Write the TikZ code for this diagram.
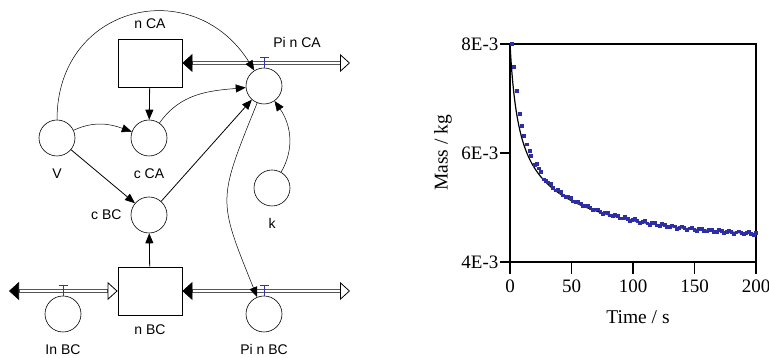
\documentclass[tikz,border=0pt]{standalone}
\usepackage{fontspec}
\setmainfont{Liberation Serif}
\newfontfamily\sdfont{Liberation Sans}
\usetikzlibrary{arrows.meta, positioning, plotmarks}
\definecolor{valveblue}{RGB}{50,50,170}
\definecolor{datablue}{RGB}{45,45,165}
\definecolor{pipegray}{RGB}{85,85,85}
\tikzset{
    stock/.style={rectangle, draw, line width=0.8pt, minimum width=64pt,
                  minimum height=48pt, inner sep=0pt},
    aux/.style={circle, draw, line width=0.6pt, minimum size=36pt, inner sep=0pt},
    lbl/.style={font=\sdfont\fontsize{14}{16}\selectfont, inner sep=1pt},
    info/.style={-{Triangle[length=10pt,width=8pt]}, line width=0.5pt},
    link/.style={info, line width=0.8pt},
    pipe/.style={draw=pipegray, line width=3.6pt,
        {Triangle[length=10pt,width=18pt,line width=0.6pt,color=black]}-{Triangle[open,length=10pt,width=18pt,line width=0.8pt,color=black]},
        postaction={draw=white, line width=1.6pt, arrows=-, shorten <=10.5pt, shorten >=10.5pt}},
    valve/.style={draw=valveblue, line width=0.7pt},
    frame/.style={line width=1.3pt},
    ticklbl/.style={font=\fontsize{19}{22}\selectfont, inner sep=1pt},
    axlbl/.style={font=\fontsize{19.5}{22}\selectfont, inner sep=1pt},
    model/.style={line width=1.2pt},
    data/.style={color=datablue, mark=square*, mark size=1.4pt},
}

\begin{document}
\begin{tikzpicture}[x=1pt, y=1pt]
    \useasboundingbox (0,0) rectangle (769,358);

    % Stocks
    \node[stock, label={[lbl,label distance=9pt]above:n CA}] at (150,295) (nCA) {};
    \node[stock, label={[lbl,label distance=8.5pt]below:n BC}] at (150,67) (nBC) {};

    % Converters
    \node[aux] at (264,272) (PinCA) {};
    \node[lbl] at (297,315) (PinCAlbl) {Pi n CA};
    \node[aux, label={[lbl,label distance=11pt]below:V}] at (57,220) (V) {};
    \node[aux, label={[lbl,label distance=11pt]below:c CA}] at (149,220) (cCA) {};
    \node[aux, label={[lbl,label distance=8pt]left:c BC}] at (149,143) (cBC) {};
    \node[aux, label={[lbl,label distance=11pt]below:k}] at (272,170) (k) {};
    \node[aux, label={[lbl,label distance=11pt]below:In BC}] at (63,44) (InBC) {};
    \node[aux, label={[lbl,label distance=11pt]below:Pi n BC}] at (264,44) (PinBC) {};

    % Flow ends
    \coordinate (sinkCA) at (350,295);
    \coordinate (srcBC) at (9,67);
    \coordinate (sinkBC) at (350,67);

    % Flows
    \draw[pipe] (nCA.east) -- (sinkCA);
    \draw[pipe] (srcBC) -- (nBC.west);
    \draw[pipe] (nBC.east) -- (sinkBC);
    \foreach \v in {InBC,PinBC,PinCA}
        \draw[valve] (\v.north) -- ++(0,10) ++(-4.5,0) -- ++(9,0);

    % Connectors
    \draw[link] (nCA) -- (cCA);
    \draw[link] (nBC) -- (cBC);
    \draw[link] (V) -- (cBC);
    \draw[link] (cBC) -- (PinCA);
    \draw[info] (V) to[out=25, in=160] (cCA);
    \draw[info] (cCA) to[out=55, in=185] (PinCA);
    \draw[info] (k) to[out=60, in=-55] (PinCA);
    \draw[info] (V) to[out=90, in=122, looseness=1.45] (PinCA);
    \draw[info] (PinCA) to[out=-112, in=112, looseness=1.4] (PinBC);

    % Plot frame and ticks
    \draw[frame] (510,96) rectangle (756,314);
    \foreach \y/\t [count=\i] in {96/4E-3, 205/6E-3, 314/8E-3}
        \draw[frame] (510,\y) -- (500,\y) node[ticklbl, left] (ytick\i) {\t};
    \foreach \t [count=\i] in {0,50,...,200}
        \draw[frame] ({510+1.23*\t},96) -- ++(0,-12) node[ticklbl, below=4pt] (xtick\i) {\t};
    \node[axlbl, rotate=90] at (443,205) (ylabel) {Mass / kg};
    \node[axlbl] at (638,41) (xlabel) {Time / s};

    % Model and data
    \begin{scope}[shift={(510pt,96pt)}, x=1.23pt, y=54.5pt]
        \draw[model] plot[domain=0:200, samples=200, smooth]
            (\x, {0.38+2.8/(1+\x/7)+0.82*exp(-\x/70)});
        \draw[data] plot[only marks] coordinates {(1.2,4.0) (3.3,3.58) (5.4,3.14)
            (7.6,2.72) (9.5,2.50) (11.4,2.32) (13.6,2.16) (15.7,2.04) (16.8,1.95)
            (20.3,1.79) (21.7,1.81) (23.6,1.72) (25.2,1.65) (27.1,1.52) (29,1.49)};
        \draw[data] plot[only marks, domain=31:200, samples=85]
            (\x, {0.38+0.06*exp(-\x/60)+2.8/(1+\x/7)+0.82*exp(-\x/70)+0.025*sin(47*\x)});
    \end{scope}

\end{tikzpicture}
\end{document}
